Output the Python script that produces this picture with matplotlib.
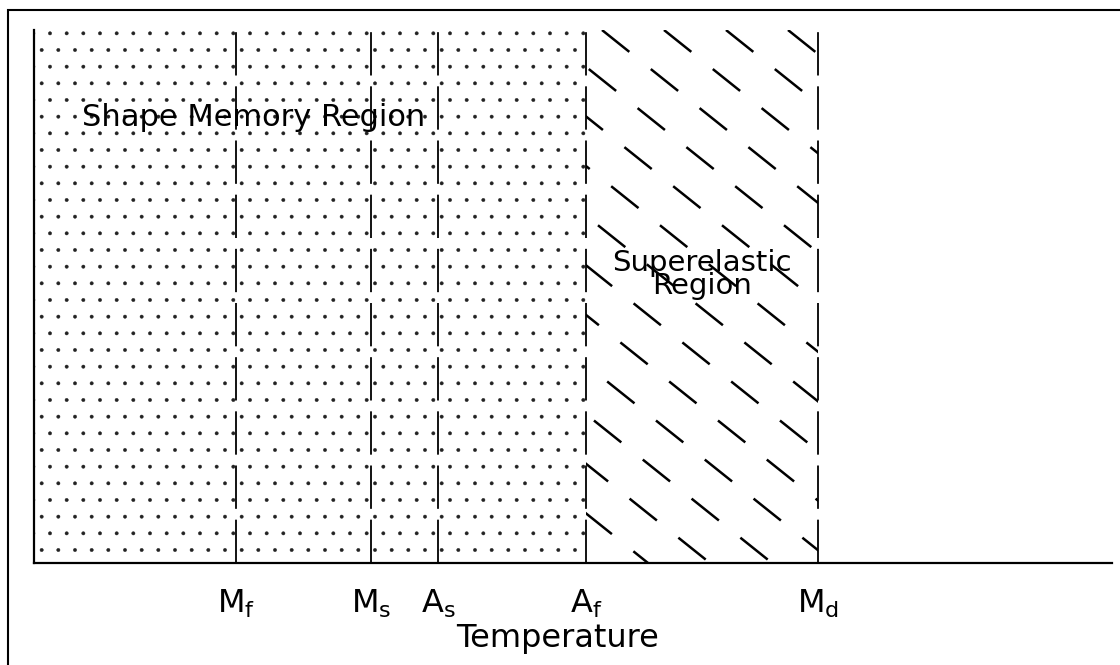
import matplotlib.pyplot as plt
import numpy as np
from matplotlib.patches import Rectangle

plt.rcParams['mathtext.default'] = 'regular'
plt.rcParams['hatch.linewidth'] = 0.3

# transformation temperatures (arbitrary units along the axis)
temp_names = ['M_f', 'M_s', 'A_s', 'A_f', 'M_d']
temp_values = [2.02, 3.37, 4.04, 5.52, 7.84]
tick_labels = [r'$\mathrm{M}_\mathrm{f}$', r'$\mathrm{M}_\mathrm{s}$',
               r'$\mathrm{A}_\mathrm{s}$', r'$\mathrm{A}_\mathrm{f}$',
               r'$\mathrm{M}_\mathrm{d}$']
x_max = 10.78

fig = plt.figure(figsize=(11.2, 6.65), dpi=100)
ax = fig.add_axes([34 / 1120, 1 - 563 / 665, (1112 - 34) / 1120, (563 - 30) / 665])

# outer frame
fig.patches.append(Rectangle((8 / 1120, -0.2), 1.2, 1.2 - 10 / 665,
                             transform=fig.transFigure, fill=False,
                             lw=1.5, ec='black'))

af = temp_values[3]
md = temp_values[4]

# shape memory region (stippled)
ax.axvspan(0, af, fill=False, hatch='.', lw=0, edgecolor='#222222')

# superelastic region (dashed diagonal hatching)
clip = Rectangle((af, 0), md - af, 1, transform=ax.transData, fill=False, lw=0)
ax.add_patch(clip)
run = 6.66
for x0 in np.arange(af - run, md + 0.1, 0.62):
    ln, = ax.plot([x0, x0 + run], [1, 0], color='black', lw=1.8,
                  linestyle=(0, (14, 11)))
    ln.set_clip_path(clip)

# transformation temperature lines
ax.vlines(temp_values, 0, 1, colors='black', lw=1.3,
          linestyles=[(0, (24, 6))])

ax.text(0.48, 0.835, 'Shape Memory Region', fontsize=22, ha='left',
        va='center')
ax.text((af + md) / 2, 0.541, 'Superelastic\nRegion', fontsize=21,
        ha='center', va='center', linespacing=0.75)

ax.set_xlim(0, x_max)
ax.set_ylim(0, 1)
ax.set_xticks(temp_values)
ax.set_xticklabels(tick_labels, fontsize=23)
ax.tick_params(axis='x', length=0, pad=18)
ax.set_yticks([])
ax.spines['top'].set_visible(False)
ax.spines['right'].set_visible(False)
ax.spines['left'].set_linewidth(1.6)
ax.spines['bottom'].set_linewidth(1.6)
ax.set_xlabel('Temperature', fontsize=23, labelpad=0)
ax.xaxis.set_label_coords(0.486, -0.112)

fig.savefig('out.png', dpi=100)
